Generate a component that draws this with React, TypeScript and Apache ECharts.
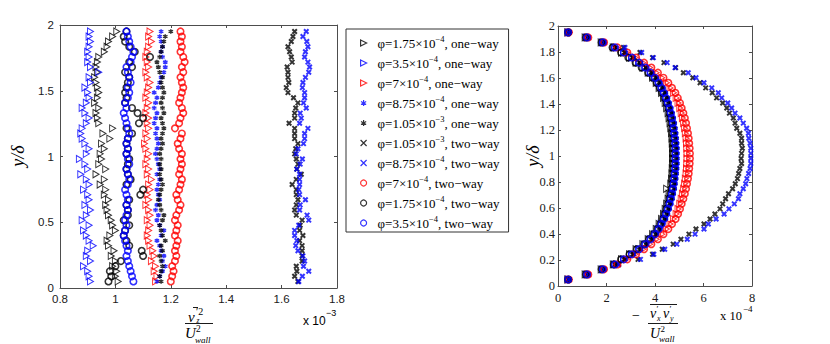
import React, { useEffect, useRef } from 'react';
import * as echarts from 'echarts';

// wall-normal positions y/delta (shared by all profiles)
const yPos = [
  0.050, 0.089, 0.128, 0.166, 0.205, 0.244, 0.283, 0.322, 0.360, 0.399,
  0.438, 0.477, 0.516, 0.554, 0.593, 0.632, 0.671, 0.710, 0.748, 0.787,
  0.826, 0.865, 0.904, 0.942, 0.981, 1.020, 1.059, 1.098, 1.136, 1.175,
  1.214, 1.253, 1.292, 1.330, 1.369, 1.408, 1.447, 1.486, 1.524, 1.563,
  1.602, 1.641, 1.680, 1.718, 1.757, 1.796, 1.835, 1.874, 1.912, 1.951,
];

// ---- left panel: vz'^2 / Uwall^2  (x 1e-3) ----
const blackTriL = [
  1.01, 1.0, 1.005, 0.99, 1.0, 0.985, 0.995, 0.975, 0.97, 0.98,
  1.0, 0.99, 0.985, 0.975, 0.97, 0.965, 0.975, 0.96, 0.965, 0.945,
  0.96, 0.93, 0.965, 0.94, 0.95, 0.945, 0.96, 0.95, 0.98, 0.955,
  0.99, 0.94, 0.935, 0.93, 0.94, 0.925, 0.935, 0.94, 0.935, 0.93,
  0.925, 0.935, 0.93, 0.935, 0.94, 0.96, 0.97, 0.975, 0.99, 1.005,
];
const blueTriL = [
  0.91, 0.905, 0.9, 0.885, 0.91, 0.895, 0.9, 0.92, 0.905, 0.895,
  0.885, 0.905, 0.88, 0.895, 0.91, 0.89, 0.905, 0.9, 0.885, 0.905,
  0.895, 0.875, 0.9, 0.89, 0.87, 0.895, 0.905, 0.89, 0.88, 0.875,
  0.88, 0.895, 0.905, 0.89, 0.88, 0.895, 0.905, 0.9, 0.89, 0.91,
  0.905, 0.94, 0.91, 0.9, 0.905, 0.9, 0.905, 0.91, 0.905, 0.91,
];
const redTriL = [
  1.145, 1.15, 1.14, 1.145, 1.13, 1.14, 1.135, 1.125, 1.12, 1.115,
  1.12, 1.125, 1.115, 1.125, 1.12, 1.11, 1.12, 1.115, 1.125, 1.12,
  1.13, 1.115, 1.12, 1.11, 1.115, 1.12, 1.11, 1.105, 1.115, 1.11,
  1.12, 1.115, 1.12, 1.11, 1.115, 1.12, 1.11, 1.115, 1.12, 1.125,
  1.115, 1.11, 1.12, 1.115, 1.11, 1.115, 1.12, 1.13, 1.12, 1.125,
];
const blueStarL = [
  1.15, 1.16, 1.17, 1.18, 1.17, 1.175, 1.165, 1.16, 1.15, 1.165,
  1.175, 1.16, 1.15, 1.155, 1.145, 1.15, 1.16, 1.155, 1.15, 1.155,
  1.16, 1.15, 1.16, 1.155, 1.15, 1.145, 1.15, 1.155, 1.15, 1.145,
  1.15, 1.14, 1.145, 1.15, 1.14, 1.145, 1.15, 1.14, 1.155, 1.16,
  1.165, 1.175, 1.18, 1.18, 1.17, 1.165, 1.17, 1.165, 1.16, 1.165,
];
const blackStarL = [
  1.165, 1.16, 1.165, 1.17, 1.165, 1.16, 1.17, 1.165, 1.18, 1.17,
  1.165, 1.16, 1.17, 1.175, 1.165, 1.16, 1.155, 1.16, 1.165, 1.17,
  1.165, 1.16, 1.165, 1.16, 1.165, 1.16, 1.165, 1.17, 1.165, 1.17,
  1.175, 1.17, 1.165, 1.175, 1.17, 1.165, 1.17, 1.175, 1.17, 1.165,
  1.17, 1.16, 1.155, 1.15, 1.16, 1.165, 1.17, 1.175, 1.18, 1.2,
];
const blackXL = [
  1.659, 1.647, 1.655, 1.653, 1.674, 1.674, 1.674, 1.674, 1.665, 1.677,
  1.665, 1.667, 1.674, 1.653, 1.647, 1.653, 1.659, 1.653, 1.653, 1.638,
  1.653, 1.671, 1.655, 1.659, 1.653, 1.647, 1.651, 1.659, 1.647, 1.647,
  1.647, 1.627, 1.647, 1.647, 1.651, 1.659, 1.643, 1.623, 1.617, 1.626,
  1.623, 1.623, 1.62, 1.638, 1.635, 1.629, 1.623, 1.635, 1.641, 1.647,
];
const blueXL = [
  1.662, 1.675, 1.698, 1.679, 1.683, 1.677, 1.659, 1.651, 1.655, 1.647,
  1.647, 1.662, 1.698, 1.692, 1.665, 1.667, 1.686, 1.665, 1.662, 1.665,
  1.665, 1.665, 1.655, 1.667, 1.675, 1.653, 1.659, 1.679, 1.683, 1.683,
  1.695, 1.665, 1.671, 1.667, 1.689, 1.679, 1.683, 1.683, 1.675, 1.677,
  1.686, 1.698, 1.701, 1.695, 1.683, 1.686, 1.695, 1.691, 1.677, 1.689,
];
const redCircL = [
  1.2, 1.205, 1.21, 1.205, 1.215, 1.22, 1.215, 1.22, 1.225, 1.215,
  1.22, 1.225, 1.215, 1.22, 1.23, 1.235, 1.225, 1.22, 1.23, 1.235,
  1.24, 1.23, 1.235, 1.24, 1.235, 1.24, 1.23, 1.225, 1.235, 1.24,
  1.215, 1.23, 1.235, 1.245, 1.24, 1.23, 1.235, 1.24, 1.245, 1.24,
  1.235, 1.245, 1.24, 1.25, 1.245, 1.235, 1.24, 1.235, 1.24, 1.235,
];
const blackCircL = [
  0.975, 0.985, 0.98, 1.0, 1.02, 1.1, 1.095, 1.05, 1.04, 1.03,
  1.035, 1.05, 1.03, 1.045, 1.045, 1.04, 1.05, 1.09, 1.1, 1.04,
  1.055, 1.045, 1.04, 1.045, 1.05, 1.04, 1.045, 1.04, 1.045, 1.06,
  1.04, 1.085, 1.1, 1.08, 1.06, 1.035, 1.04, 1.035, 1.04, 1.045,
  1.05, 1.035, 1.06, 1.05, 1.125, 1.07, 1.05, 1.035, 1.03, 1.04,
];
const blueCircL = [
  1.065, 1.06, 1.055, 1.05, 1.045, 1.04, 1.045, 1.04, 1.035, 1.03,
  1.035, 1.04, 1.035, 1.04, 1.045, 1.04, 1.045, 1.04, 1.035, 1.045,
  1.05, 1.045, 1.04, 1.05, 1.045, 1.04, 1.045, 1.04, 1.045, 1.05,
  1.045, 1.04, 1.035, 1.03, 1.04, 1.035, 1.045, 1.05, 1.045, 1.055,
  1.05, 1.045, 1.04, 1.055, 1.06, 1.065, 1.055, 1.05, 1.045, 1.04,
];

// ---- right panel: -vx'vy' / Uwall^2  (x 1e-4) ----
const blackTriR = [
  0.4, 1.12, 1.78, 2.28, 2.62, 2.95, 3.22, 3.5, 3.72, 3.9,
  4.05, 4.17, 4.27, 4.35, 4.42, 4.48, 4.54, 4.58, 4.48, 4.65,
  4.68, 4.7, 4.71, 4.72, 4.72, 4.72, 4.72, 4.71, 4.7, 4.68,
  4.65, 4.62, 4.58, 4.54, 4.48, 4.42, 4.35, 4.27, 4.17, 4.05,
  3.9, 3.72, 3.5, 3.22, 2.95, 2.62, 2.28, 1.78, 1.12, 0.4,
];
const blueTriR = [
  0.42, 1.18, 1.83, 2.33, 2.7, 3.03, 3.32, 3.58, 3.8, 3.98,
  4.13, 4.25, 4.35, 4.44, 4.51, 4.58, 4.63, 4.68, 4.72, 4.75,
  4.78, 4.8, 4.82, 4.83, 4.83, 4.83, 4.83, 4.82, 4.8, 4.78,
  4.75, 4.72, 4.68, 4.63, 4.58, 4.51, 4.44, 4.35, 4.25, 4.13,
  3.98, 3.8, 3.58, 3.32, 3.03, 2.7, 2.33, 1.83, 1.18, 0.42,
];
const redTriR = [
  0.45, 1.22, 1.88, 2.42, 2.82, 3.18, 3.5, 3.78, 4.05, 4.28,
  4.47, 4.62, 4.76, 4.87, 4.95, 5.02, 5.08, 5.13, 5.18, 5.22,
  5.25, 5.28, 5.3, 5.31, 5.32, 5.32, 5.31, 5.3, 5.28, 5.25,
  5.22, 5.18, 5.13, 5.08, 5.02, 4.95, 4.87, 4.76, 4.62, 4.47,
  4.28, 4.05, 3.78, 3.5, 3.18, 2.82, 2.42, 1.88, 1.22, 0.45,
];
const blueStarR = [
  0.42, 1.2, 1.85, 2.38, 2.78, 3.12, 3.42, 3.68, 3.9, 4.08,
  4.23, 4.35, 4.45, 4.53, 4.6, 4.67, 4.72, 4.77, 4.81, 4.84,
  4.87, 4.89, 4.91, 4.92, 4.92, 4.92, 4.92, 4.91, 4.89, 4.87,
  4.84, 4.81, 4.77, 4.72, 4.67, 4.6, 4.53, 4.45, 4.35, 4.23,
  4.08, 3.9, 3.68, 3.42, 3.12, 2.78, 2.38, 1.85, 1.2, 0.42,
];
const blackStarR = [
  0.42, 1.2, 1.85, 2.35, 2.75, 3.1, 3.4, 3.65, 3.87, 4.05,
  4.2, 4.32, 4.42, 4.5, 4.58, 4.64, 4.7, 4.75, 4.79, 4.82,
  4.85, 4.87, 4.89, 4.9, 4.9, 4.9, 4.9, 4.89, 4.87, 4.85,
  4.82, 4.79, 4.75, 4.7, 4.64, 4.58, 4.5, 4.42, 4.32, 4.2,
  4.05, 3.87, 3.65, 3.4, 3.1, 2.75, 2.35, 1.85, 1.2, 0.42,
];
const blackXR = [
  0.45, 1.25, 1.9, 2.5, 3.3, 3.9, 4.3, 4.75, 5.07, 5.4,
  5.69, 6.02, 6.27, 6.47, 6.68, 6.79, 6.91, 7.03, 7.2, 7.31,
  7.4, 7.45, 7.5, 7.57, 7.55, 7.57, 7.6, 7.57, 7.57, 7.5,
  7.37, 7.3, 7.23, 7.07, 6.96, 6.79, 6.54, 6.36, 6.09, 5.86,
  5.56, 5.17, 4.85, 4.37, 3.9, 3.38, 2.7, 1.9, 1.25, 0.45,
];
const blueXR = [
  0.45, 1.25, 1.9, 2.5, 3.4, 3.95, 4.4, 4.9, 5.33, 5.65,
  6.02, 6.2, 6.52, 6.85, 7.05, 7.27, 7.44, 7.5, 7.64, 7.74,
  7.79, 7.86, 7.92, 7.95, 7.95, 7.95, 7.95, 7.92, 7.87, 7.85,
  7.78, 7.64, 7.5, 7.3, 7.16, 7.0, 6.75, 6.61, 6.34, 6.02,
  5.69, 5.37, 4.83, 4.5, 3.93, 3.45, 2.76, 1.9, 1.25, 0.45,
];
const redCircR = [
  0.45, 1.25, 1.9, 2.45, 2.86, 3.22, 3.55, 3.85, 4.12, 4.35,
  4.55, 4.7, 4.85, 4.95, 5.03, 5.1, 5.17, 5.23, 5.28, 5.32,
  5.36, 5.39, 5.41, 5.43, 5.44, 5.44, 5.43, 5.41, 5.39, 5.36,
  5.32, 5.28, 5.23, 5.17, 5.1, 5.03, 4.94, 4.84, 4.7, 4.55,
  4.35, 4.12, 3.85, 3.55, 3.22, 2.86, 2.45, 1.9, 1.25, 0.45,
];
const blackCircR = [
  0.42, 1.15, 1.8, 2.3, 2.6, 2.95, 3.25, 3.55, 3.75, 3.95,
  4.1, 4.22, 4.32, 4.4, 4.47, 4.54, 4.6, 4.64, 4.68, 4.71,
  4.73, 4.75, 4.76, 4.77, 4.77, 4.77, 4.77, 4.76, 4.75, 4.73,
  4.71, 4.68, 4.64, 4.6, 4.55, 4.48, 4.4, 4.3, 4.2, 4.07,
  3.92, 3.72, 3.45, 3.2, 2.9, 2.6, 2.25, 1.8, 1.15, 0.42,
];
const blueCircR = [
  0.42, 1.2, 1.85, 2.35, 2.72, 3.05, 3.35, 3.6, 3.82, 4.0,
  4.15, 4.27, 4.37, 4.46, 4.53, 4.6, 4.65, 4.7, 4.74, 4.77,
  4.8, 4.82, 4.84, 4.85, 4.85, 4.85, 4.85, 4.84, 4.82, 4.8,
  4.77, 4.74, 4.7, 4.65, 4.6, 4.53, 4.46, 4.37, 4.27, 4.15,
  4.0, 3.82, 3.6, 3.35, 3.05, 2.72, 2.35, 1.85, 1.2, 0.42,
];

// legend entries: [mantissa, exponent, coupling]
const legendMant = ['1.75', '3.5', '7', '8.75', '1.05', '1.05', '8.75', '7', '1.75', '3.5'];
const legendExp = ['4', '4', '4', '4', '3', '3', '4', '4', '4', '4'];
const legendType = ['one−way', 'one−way', 'one−way', 'one−way', 'one−way', 'two−way', 'two−way', 'two−way', 'two−way', 'two−way'];

const xTicksLeft = [0.8, 1.8, 0.2];
const yTicksLeft = [0, 2, 0.5];
const xTicksRight = [0, 8, 2];
const yTicksRight = [0, 2, 0.2];

const TRI = 'path://M0,0L10,5L0,10Z';
const STAR = 'path://M5,0L5,10M0.7,2.5L9.3,7.5M0.7,7.5L9.3,2.5';
const CROSS = 'path://M0,0L10,10M0,10L10,0';

const BLUE = '#0000ff';
const RED = '#ff0000';
const BLACK = '#000000';

const defs = [
  { color: BLACK, kind: 'tri', L: blackTriL, R: blackTriR },
  { color: BLUE, kind: 'tri', L: blueTriL, R: blueTriR },
  { color: RED, kind: 'tri', L: redTriL, R: redTriR },
  { color: BLUE, kind: 'star', L: blueStarL, R: blueStarR },
  { color: BLACK, kind: 'star', L: blackStarL, R: blackStarR },
  { color: BLACK, kind: 'cross', L: blackXL, R: blackXR },
  { color: BLUE, kind: 'cross', L: blueXL, R: blueXR },
  { color: RED, kind: 'circ', L: redCircL, R: redCircR },
  { color: BLACK, kind: 'circ', L: blackCircL, R: blackCircR },
  { color: BLUE, kind: 'circ', L: blueCircL, R: blueCircR },
];

function markerStyle(kind: string, color: string) {
  if (kind === 'tri') return { symbol: TRI, symbolSize: [6, 7], itemStyle: { color: 'transparent', borderColor: color, borderWidth: 1 } };
  if (kind === 'star') return { symbol: STAR, symbolSize: 4.5, itemStyle: { color: 'transparent', borderColor: color, borderWidth: 1.5 } };
  if (kind === 'cross') return { symbol: CROSS, symbolSize: 4.5, itemStyle: { color: 'transparent', borderColor: color, borderWidth: 2 } };
  return { symbol: 'circle', symbolSize: 6.5, itemStyle: { color: 'transparent', borderColor: color, borderWidth: 1.6 } };
}

const AX = '#4d4d4d';
const SANS = 'Liberation Sans, Arial, sans-serif';
const SERIF = 'Liberation Serif, Times New Roman, serif';

function mkAxis(grid: number, pos: string, ticks: number[], showLabel: boolean, font: string, size: number, margin: number) {
  return {
    type: 'value',
    gridIndex: grid,
    position: pos,
    min: ticks[0],
    max: ticks[1],
    interval: ticks[2],
    axisLine: { show: true, onZero: false, lineStyle: { color: AX, width: 1 } },
    axisTick: { show: true, inside: true, length: 3, lineStyle: { color: AX, width: 1 } },
    splitLine: { show: false },
    axisLabel: { show: showLabel, color: '#1a1a1a', fontFamily: font, fontSize: size, margin },
  };
}

export default function App() {
  const ref = useRef<HTMLDivElement>(null);
  useEffect(() => {
    const chart = echarts.init(ref.current!, null, { renderer: 'svg' });
    const names = defs.map((_, i) => `s${i}`);
    const series: any[] = [];
    defs.forEach((d, i) => {
      series.push({
        type: 'scatter', name: names[i], xAxisIndex: 0, yAxisIndex: 0,
        data: d.L.map((v, k) => [v, yPos[k]]), ...markerStyle(d.kind, d.color),
      });
    });
    defs.forEach((d, i) => {
      series.push({
        type: 'scatter', name: names[i], xAxisIndex: 2, yAxisIndex: 2,
        data: d.R.map((v, k) => [v, yPos[k]]), ...markerStyle(d.kind, d.color),
      });
    });

    const t = (x: number, y: number, text: string, size: number, opts: any = {}) => ({
      type: 'text', x, y, rotation: opts.rotation || 0,
      style: {
        text, fontSize: size, fontFamily: opts.family || SERIF, fontStyle: opts.italic ? 'italic' : 'normal',
        fill: '#000', align: opts.align || 'left', verticalAlign: 'middle',
      },
    });
    const ln = (x1: number, y1: number, x2: number, y2: number) => ({
      type: 'line', shape: { x1, y1, x2, y2 }, style: { stroke: '#000', lineWidth: 0.9 },
    });

    const option: any = {
      animation: false,
      backgroundColor: '#fff',
      grid: [
        { left: 60, top: 25, width: 277, height: 263, show: false },
        { left: 558, top: 26, width: 194, height: 260, show: false },
      ],
      xAxis: [
        mkAxis(0, 'bottom', xTicksLeft, true, SANS, 11.5, 5),
        mkAxis(0, 'top', xTicksLeft, false, SANS, 11.5, 5),
        mkAxis(1, 'bottom', xTicksRight, true, SERIF, 12.5, 5),
        mkAxis(1, 'top', xTicksRight, false, SERIF, 12.5, 5),
      ],
      yAxis: [
        mkAxis(0, 'left', yTicksLeft, true, SANS, 11.5, 6),
        mkAxis(0, 'right', yTicksLeft, false, SANS, 11.5, 6),
        mkAxis(1, 'left', yTicksRight, true, SERIF, 12.5, 3),
        mkAxis(1, 'right', yTicksRight, false, SERIF, 12.5, 3),
      ],
      legend: {
        orient: 'vertical',
        left: 346,
        top: 29,
        padding: [5, 9, 0, 14],
        itemGap: 2,
        itemWidth: 6,
        itemHeight: 6,
        borderColor: '#333',
        borderWidth: 1,
        backgroundColor: '#fff',
        itemStyle: { borderWidth: 1.2 },
        data: names,
        formatter: (name: string) => {
          const i = names.indexOf(name);
          return `φ=${legendMant[i]}×10{sup|−${legendExp[i]}}, ${legendType[i]}`;
        },
        textStyle: {
          fontFamily: SERIF, fontSize: 13, color: '#000', lineHeight: 18, padding: [0, 0, 0, 6],
          rich: { sup: { fontFamily: SERIF, fontSize: 8.5, lineHeight: 8, verticalAlign: 'top', color: '#000' } },
        },
      },
      graphic: [
        // y labels
        t(18, 156, 'y/δ', 18, { italic: true, align: 'center', rotation: Math.PI / 2 }),
        t(533, 156, 'y/δ', 18, { italic: true, align: 'center', rotation: Math.PI / 2 }),
        // left x label
        t(188, 317, 'v', 15, { italic: true }),
        t(196, 311.5, '′2', 10),
        t(196.5, 320, 'z', 7.5, { italic: true }),
        ln(193, 307.5, 198, 307.5),
        ln(185, 323.5, 213, 323.5),
        t(185, 333, 'U', 15, { italic: true }),
        t(196, 329, '2', 9.5),
        t(195, 339.5, 'wall', 9, { italic: true }),
        t(303, 321, 'x 10', 12, { family: SANS }),
        t(326, 313, '−3', 9, { family: SANS }),
        // right x label
        t(636, 315, '−', 14, { align: 'center' }),
        ln(650, 304.5, 677, 304.5),
        t(650, 313.5, 'v', 14, { italic: true }),
        t(656.5, 309, '′', 9),
        t(657, 318, 'x', 8, { italic: true }),
        t(663, 313.5, 'v', 14, { italic: true }),
        t(669.5, 309, '′', 9),
        t(670, 318, 'y', 8, { italic: true }),
        ln(648, 323.5, 678, 323.5),
        t(650, 333.5, 'U', 14, { italic: true }),
        t(660.5, 329, '2', 9),
        t(659, 339, 'wall', 9, { italic: true }),
        t(720, 316, 'x 10', 12.5),
        t(743, 308.5, '−4', 9),
      ],
      series,
    };
    chart.setOption(option);
    return () => chart.dispose();
  }, []);
  return (
    <div
      ref={ref}
      style={{ position: 'absolute', left: 0, top: 0, width: 830, height: 344, background: '#fff' }}
    />
  );
}
